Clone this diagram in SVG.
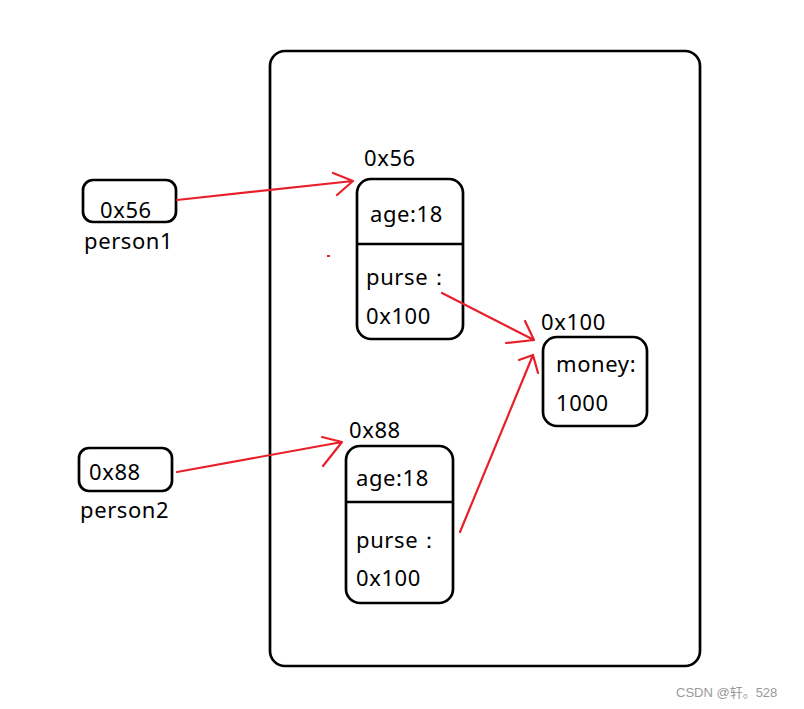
<svg xmlns="http://www.w3.org/2000/svg" width="804" height="709" viewBox="0 0 804 709">
<style>
.box{fill:none;stroke:#000;stroke-width:2.7}
.t{font-family:"Noto Sans","Open Sans","DejaVu Sans",sans-serif;font-size:22px;letter-spacing:0.6px;fill:#000}
.a{fill:none;stroke:#e8202a;stroke-width:2.2;stroke-linecap:round;stroke-linejoin:round}
.wm{font-family:"Liberation Sans","Noto Sans CJK SC",sans-serif;font-size:13px;fill:#999}
</style>
<rect width="804" height="709" fill="#fff"/>
<g id="heap"><rect class="box" x="270" y="51" width="430" height="615" rx="15"/></g>
<g id="person1">
<rect class="box" x="83" y="180" width="93" height="42" rx="10"/>
<text class="t" x="100" y="218">0x56</text>
<text class="t" x="84" y="249">person1</text>
</g>
<g id="obj56">
<text class="t" x="364" y="166">0x56</text>
<rect class="box" x="357" y="179" width="106" height="160" rx="14"/>
<line class="box" x1="357" y1="244" x2="463" y2="244"/>
<text class="t" x="370" y="222">age:18</text>
<text class="t" x="366" y="285">purse：</text>
<text class="t" x="366" y="324">0x100</text>
</g>
<g id="obj100">
<text class="t" x="541" y="330">0x100</text>
<rect class="box" x="543" y="337" width="104" height="89" rx="14"/>
<text class="t" x="556" y="372">money:</text>
<text class="t" x="556" y="411">1000</text>
</g>
<g id="obj88">
<text class="t" x="349" y="438">0x88</text>
<rect class="box" x="346" y="446" width="107" height="157" rx="14"/>
<line class="box" x1="346" y1="502" x2="453" y2="502"/>
<text class="t" x="356" y="486">age:18</text>
<text class="t" x="356" y="548">purse：</text>
<text class="t" x="356" y="586">0x100</text>
</g>
<g id="person2">
<rect class="box" x="79" y="448" width="93" height="43" rx="10"/>
<text class="t" x="89" y="480">0x88</text>
<text class="t" x="80" y="518">person2</text>
</g>
<g id="connectors">
<path class="a" d="M177,200 L353,181 M333,173 L353,181 L337,195"/>
<path class="a" d="M442,293 L534,340 M525,321 L534,340 L506,343"/>
<path class="a" d="M460,532 L533,355 M519,360 L533,355 L538,373"/>
<path class="a" d="M177,472 L342,442 M322,437 L342,442 L323,466"/>
<rect x="327" y="255" width="3" height="2" fill="#e8202a"/>
</g>
<text class="wm" x="676" y="697">CSDN @轩。528</text>
</svg>
